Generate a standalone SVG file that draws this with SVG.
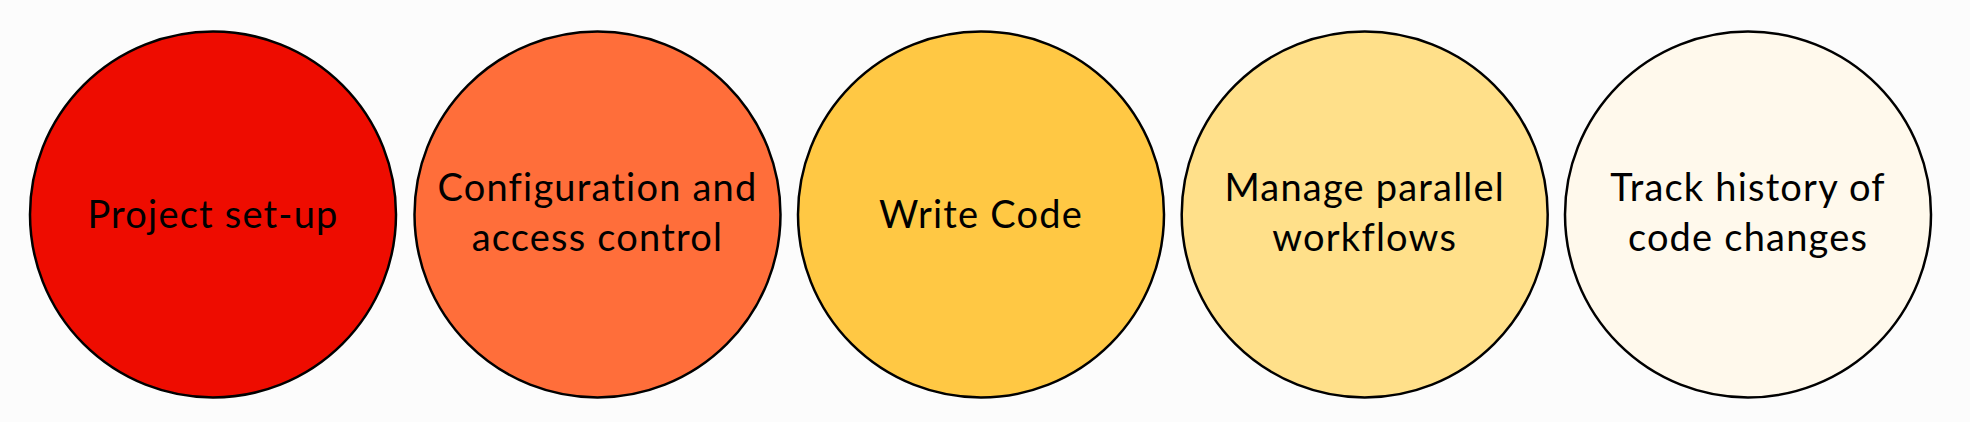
<svg xmlns="http://www.w3.org/2000/svg" width="1970" height="422" viewBox="0 0 1970 422">
<style>
.c{stroke:#000;stroke-width:2.5}
.t{font-family:Lato,"Liberation Sans",sans-serif;font-size:38px;letter-spacing:1.2px;fill:#000;text-anchor:middle}
</style>
<rect width="1970" height="422" fill="#fcfcfc"/>
<g id="connectors"/>
<g id="n1"><circle class="c" cx="213" cy="214.5" r="183" fill="#ee0c00"/><text class="t" x="213" y="228">Project set-up</text></g>
<g id="n2"><circle class="c" cx="597.5" cy="214.5" r="183" fill="#ff6e3a"/><text class="t" x="597.5" y="201">Configuration and</text><text class="t" x="597.5" y="251">access control</text></g>
<g id="n3"><circle class="c" cx="981" cy="214.5" r="183" fill="#ffc844"/><text class="t" x="981" y="228">Write Code</text></g>
<g id="n4"><circle class="c" cx="1364.7" cy="214.5" r="183" fill="#ffe08a"/><text class="t" x="1364.7" y="201">Manage parallel</text><text class="t" x="1364.7" y="251">workflows</text></g>
<g id="n5"><circle class="c" cx="1748" cy="214.5" r="183" fill="#fff9ec"/><text class="t" x="1748" y="201">Track history of</text><text class="t" x="1748" y="251">code changes</text></g>
</svg>
